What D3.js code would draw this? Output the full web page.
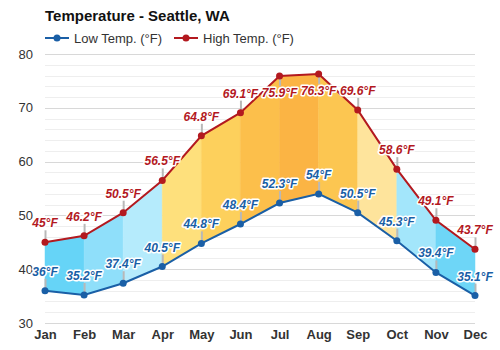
<!doctype html>
<html>
<head>
<meta charset="utf-8">
<script src="https://d3js.org/d3.v7.min.js"></script>
<style>
  body { margin: 0; background: #fff; }
  text { font-family: "Liberation Sans", Arial, sans-serif; }
</style>
</head>
<body>
<div id="chart"></div>
<script>
  var months = ["Jan", "Feb", "Mar", "Apr", "May", "Jun", "Jul", "Aug", "Sep", "Oct", "Nov", "Dec"];
  var lowTemps = [36, 35.2, 37.4, 40.5, 44.8, 48.4, 52.3, 54, 50.5, 45.3, 39.4, 35.1];
  var highTemps = [45, 46.2, 50.5, 56.5, 64.8, 69.1, 75.9, 76.3, 69.6, 58.6, 49.1, 43.7];
  var yTicks = [30, 40, 50, 60, 70, 80];

  // fill colour of each month-to-month band
  var bandColors = ["#66d4f7", "#8fdffa", "#b5ebfc", "#fee07c", "#fdd05c", "#fcbf4b",
                    "#fbb444", "#fcc651", "#fee49c", "#a3e6fb", "#6ed6f7"];

  var width = 500, height = 350;
  var plotLeft = 45, plotRight = 475, plotTop = 54, plotBottom = 323;
  var lowColor = "#1a5fa6", highColor = "#b3191f";

  var svg = d3.select("#chart").append("svg")
    .attr("width", width)
    .attr("height", height);

  var x = d3.scalePoint().domain(months).range([plotLeft, plotRight]);
  var y = d3.scaleLinear().domain([30, 80]).range([plotBottom, plotTop]);

  // grid
  svg.append("g").selectAll("line")
    .data(d3.range(30, 81, 2))
    .enter().append("line")
      .attr("x1", plotLeft).attr("x2", plotRight)
      .attr("y1", function(d) { return Math.round(y(d)) + 0.5; })
      .attr("y2", function(d) { return Math.round(y(d)) + 0.5; })
      .attr("stroke", function(d) { return d % 10 == 0 ? "#d8d8d8" : "#eeeeee"; })
      .attr("stroke-width", 1);

  // y axis
  var yAxis = svg.append("g")
    .attr("transform", "translate(" + 33 + ",0)")
    .call(d3.axisLeft(y).tickValues(yTicks).tickSize(0).tickPadding(0));
  yAxis.select(".domain").remove();
  yAxis.selectAll("text")
    .style("font-family", "'Liberation Sans', Arial, sans-serif")
    .style("font-size", "13px")
    .attr("fill", "#333");

  // x axis
  var xAxis = svg.append("g")
    .attr("transform", "translate(0," + 330 + ")")
    .call(d3.axisBottom(x).tickSize(0).tickPadding(0));
  xAxis.select(".domain").remove();
  xAxis.selectAll("text")
    .style("font-family", "'Liberation Sans', Arial, sans-serif")
    .style("font-size", "13px")
    .style("font-weight", "bold")
    .attr("fill", "#333");

  // bands between low and high
  var rows = months.map(function(m, i) { return {m: m, lo: lowTemps[i], hi: highTemps[i]}; });
  var area = d3.area()
    .x(function(d) { return x(d.m); })
    .y0(function(d) { return y(d.lo); })
    .y1(function(d) { return y(d.hi); });
  svg.append("g").selectAll("path")
    .data(d3.range(months.length - 1))
    .enter().append("path")
      .attr("d", function(i) { return area(rows.slice(i, i + 2)); })
      .attr("fill", function(i) { return bandColors[i]; })
      .attr("stroke", function(i) { return bandColors[i]; })
      .attr("stroke-width", 0.5);

  function placeLabel(py) {
    // labels that would leave the plot go below the point
    return (py - 25 < plotTop) ? {below: true, y: py + 21} : {below: false, y: py - 15};
  }

  // connectors
  var conn = svg.append("g");
  [lowTemps, highTemps].forEach(function(vals) {
    vals.forEach(function(v, i) {
      var px = x(months[i]), py = y(v), p = placeLabel(py);
      conn.append("line")
        .attr("x1", px + 0.5).attr("x2", px + 0.5)
        .attr("y1", py)
        .attr("y2", p.below ? py + 10 : py - 12)
        .attr("stroke", "#b8b8b8")
        .attr("stroke-width", 2);
    });
  });

  // lines + markers
  function drawSeries(vals, color) {
    var line = d3.line()
      .x(function(d, i) { return x(months[i]); })
      .y(function(d) { return y(d); });
    svg.append("path")
      .datum(vals)
      .attr("d", line)
      .attr("fill", "none")
      .attr("stroke", color)
      .attr("stroke-width", 2);
    svg.append("g").selectAll("circle")
      .data(vals)
      .enter().append("circle")
        .attr("cx", function(d, i) { return x(months[i]); })
        .attr("cy", function(d) { return y(d); })
        .attr("r", 3.5)
        .attr("fill", color);
  }
  drawSeries(lowTemps, lowColor);
  drawSeries(highTemps, highColor);

  // data labels
  function drawLabels(vals, color) {
    svg.append("g").selectAll("text")
      .data(vals)
      .enter().append("text")
        .attr("x", function(d, i) { return x(months[i]); })
        .attr("y", function(d) { return placeLabel(y(d)).y; })
        .attr("text-anchor", "middle")
        .style("font-size", "12px")
        .style("font-weight", "bold")
        .style("font-style", "italic")
        .style("paint-order", "stroke")
        .attr("stroke", "#fff")
        .attr("stroke-width", 3)
        .attr("stroke-linejoin", "round")
        .attr("fill", color)
        .text(function(d) { return d + "°F"; });
  }
  drawLabels(lowTemps, lowColor);
  drawLabels(highTemps, highColor);

  // title
  svg.append("text")
    .attr("x", 45).attr("y", 21)
    .style("font-size", "15px")
    .style("font-weight", "bold")
    .attr("fill", "#111")
    .text("Temperature - Seattle, WA");

  // legend
  var legend = [
    {name: "Low Temp. (°F)", color: lowColor, x: 45},
    {name: "High Temp. (°F)", color: highColor, x: 174}
  ];
  var lg = svg.append("g").selectAll("g")
    .data(legend)
    .enter().append("g")
      .attr("transform", function(d) { return "translate(" + d.x + ",38)"; });
  lg.append("line")
    .attr("x1", 0).attr("x2", 24)
    .attr("stroke", function(d) { return d.color; })
    .attr("stroke-width", 2);
  lg.append("circle")
    .attr("cx", 12).attr("r", 3.5)
    .attr("fill", function(d) { return d.color; });
  lg.append("text")
    .attr("x", 29).attr("y", 5)
    .style("font-size", "13px")
    .attr("fill", "#333")
    .text(function(d) { return d.name; });
</script>
</body>
</html>
